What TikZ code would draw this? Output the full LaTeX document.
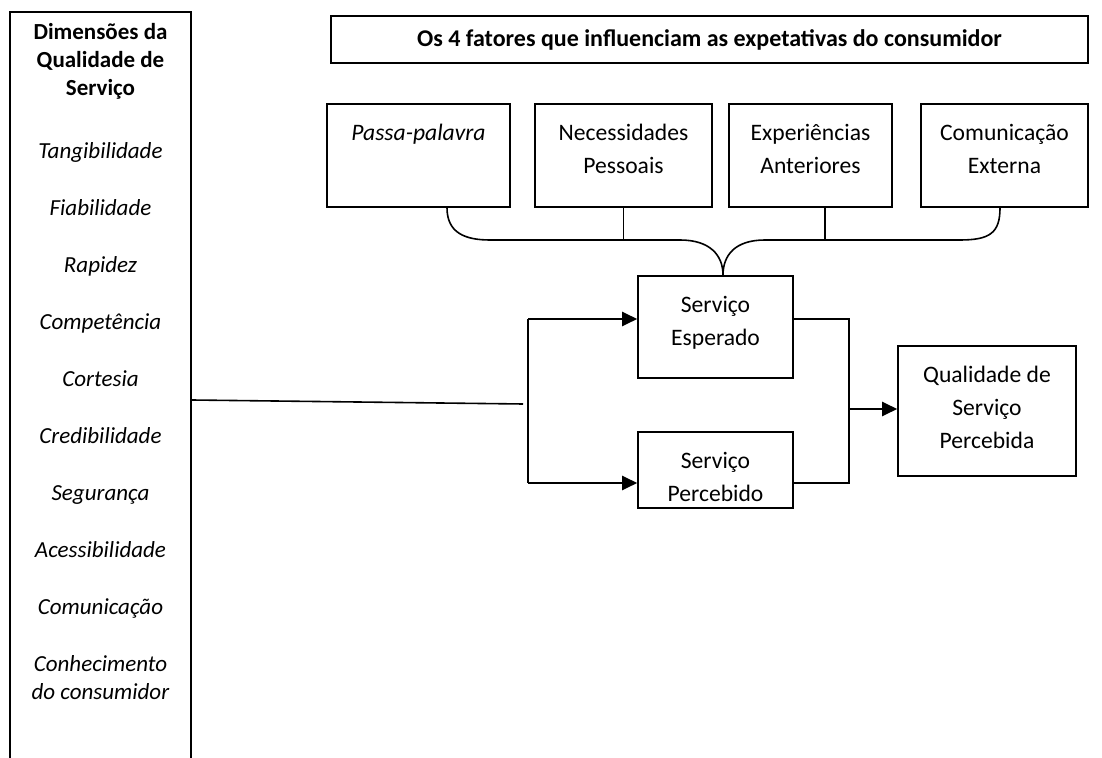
\documentclass[tikz,border=0pt]{standalone}
\usepackage{fontspec}
\setmainfont{Carlito}
\usetikzlibrary{positioning,calc,arrows.meta}
\tikzset{box/.style={draw,rectangle,line width=0.8pt,inner sep=0pt},
  txt/.style={anchor=north,align=center,inner sep=0pt,yshift=-10pt,font=\fontsize{11.8}{16.5}\selectfont},
  coltxt/.style={anchor=north,align=center,inner sep=0pt,yshift=-5.5pt,font=\fontsize{11.5}{14}\selectfont},
  arr/.style={-{Triangle[length=7.5pt,width=7pt]},line width=1.1pt}}

\begin{document}
\begin{tikzpicture}[x=0.5pt,y=-0.5pt,line width=0.8pt]
\useasboundingbox (0,0) rectangle (1102,758);
\clip (0,0) rectangle (1102,758);

% left column
\node[box,minimum width=90.5pt,minimum height=388pt,
  label={[coltxt]north:{\textbf{Dimensões da}\\\textbf{Qualidade de}\\\textbf{Serviço}\\[17.5pt]
  \textit{Tangibilidade}\\[14.5pt]\textit{Fiabilidade}\\[14.5pt]\textit{Rapidez}\\[14.5pt]
  \textit{Competência}\\[14.5pt]\textit{Cortesia}\\[14.5pt]\textit{Credibilidade}\\[14.5pt]
  \textit{Segurança}\\[14.5pt]\textit{Acessibilidade}\\[14.5pt]\textit{Comunicação}\\[14.5pt]
  \textit{Conhecimento}\\\textit{do consumidor}}}] (dim) at (100.5,400) {};

% title and the 4 factors
\node[box,minimum width=378.5pt,minimum height=23.5pt,font=\bfseries\fontsize{12}{14}\selectfont] (title) at (709.5,39.5)
  {Os 4 fatores que influenciam as expetativas do consumidor};
\node[box,minimum width=91.5pt,minimum height=51.5pt,label={[txt]north:\textit{Passa-palavra}}] (f1) at (418.5,155.5) {};
\node[box,minimum width=88.5pt,minimum height=51.5pt,label={[txt]north:{Necessidades\\Pessoais}}] (f2) at (623.5,155.5) {};
\node[box,minimum width=81.5pt,minimum height=51.5pt,label={[txt]north:{Experiências\\Anteriores}}] (f3) at (810.5,155.5) {};
\node[box,minimum width=83.5pt,minimum height=51.5pt,label={[txt]north:{Comunicação\\Externa}}] (f4) at (1004.5,155.5) {};

% service boxes
\node[box,minimum width=77.5pt,minimum height=51pt,label={[txt]north:{Serviço\\Esperado}}] (esp) at (715.5,327) {};
\node[box,minimum width=77.5pt,minimum height=38pt,label={[txt]north:{Serviço\\Percebido}}] (perc) at (715.5,470) {};
\node[box,minimum width=89pt,minimum height=65pt,label={[txt]north:{Qualidade de\\Serviço\\Percebida}}] (qual) at (987,411) {};

% brace
\coordinate (tip) at ($(esp.north)+(7.5,0)$);
\draw ($(f1.south)+(28.5,0)$) .. controls +(0,25) and +(-25,0) .. (490,240) -- (680,240)
  .. controls +(30,0) and +(0,-20) .. (tip);
\draw (tip) .. controls +(0,-20) and +(-30,0) .. (765,240) -- (960,240)
  .. controls +(30,0) and +(0,25) .. ($(f4.south)+(-4.5,0)$);
\draw (f2.south) -- (f2.south |- 0,240);
\draw ($(f3.south)+(14.5,0)$) -- +(0,33);

% fork
\coordinate (forkIn) at (523,404);
\coordinate (forkTop) at (528,319);
\coordinate (forkBot) at (528,483);
\coordinate (join) at (849,409);
\draw (dim.east) -- (forkIn);
\draw (forkTop) -- (forkBot);
\draw[arr] (forkTop) -- (forkTop -| esp.west);
\draw[arr] (forkBot) -- (forkBot -| perc.west);
\draw (forkTop -| esp.east) -| (join) |- (forkBot -| perc.east);
\draw[arr] (join) -- (join -| qual.west);
\end{tikzpicture}
\end{document}
